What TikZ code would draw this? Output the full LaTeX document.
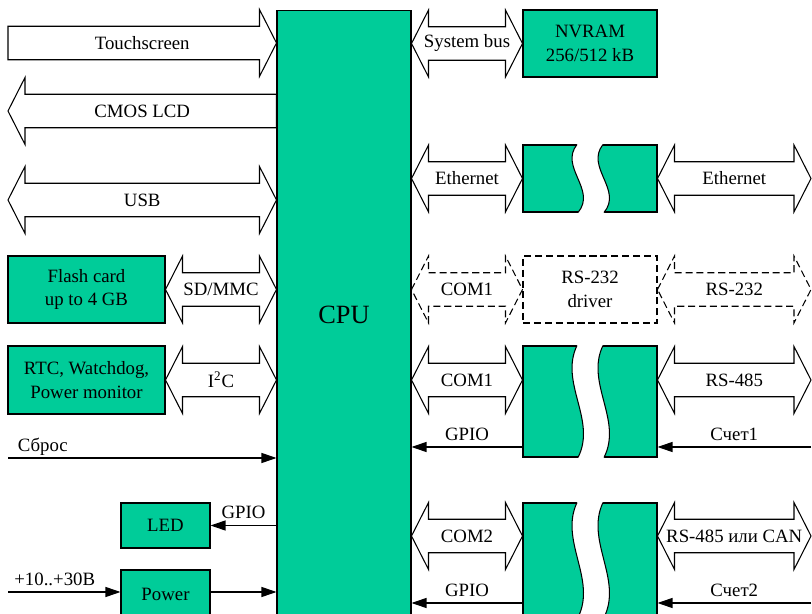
\documentclass[tikz,border=0pt]{standalone}
\usepackage{fontspec}
\setmainfont{Liberation Serif}
\usetikzlibrary{calc,arrows.meta}

\definecolor{chipgreen}{RGB}{0,204,153}

% block arrow sizes
\newcommand{\headlen}{0.34cm}
\newcommand{\headhalf}{0.67cm}
\newcommand{\bodyhalf}{0.335cm}

% double block arrow between two points on one level
\newcommand{\dblarrow}[4][]{%
  \draw[bus,#1] let \p1=(#2), \p2=(#3), \p3=($(#2)!\headlen!(#3)$), \p4=($(#3)!\headlen!(#2)$) in
    (\x1,\y1) -- (\x3,\y1+\headhalf) -- (\x3,\y1+\bodyhalf) -- (\x4,\y1+\bodyhalf)
    -- (\x4,\y1+\headhalf) -- (\x2,\y1) -- (\x4,\y1-\headhalf) -- (\x4,\y1-\bodyhalf)
    -- (\x3,\y1-\bodyhalf) -- (\x3,\y1-\headhalf) -- cycle;
  \path (#2) -- (#3) node[midway] {#4};}

% single block arrow, tail first
\newcommand{\sglarrow}[4][]{%
  \draw[bus,#1] let \p1=(#2), \p2=(#3), \p3=($(#3)!\headlen!(#2)$) in
    (\x1,\y1+\bodyhalf) -- (\x3,\y1+\bodyhalf) -- (\x3,\y1+\headhalf) -- (\x2,\y1)
    -- (\x3,\y1-\headhalf) -- (\x3,\y1-\bodyhalf) -- (\x1,\y1-\bodyhalf) -- cycle;
  \path (#2) -- (#3) node[midway] {#4};}

% wavy break through a transceiver box
\newcommand{\breakgap}[1]{%
  \fill[white] let \p1=(#1.north), \p2=(#1.south), \p3=(#1.center) in
    (\x3-0.26cm,\y1+2pt) -- (\x3-0.26cm,\y1)
    .. controls ({\x3-0.62cm},{(2*\y1+\y2)/3}) and ({\x3+0.14cm},{(\y1+2*\y2)/3}) .. (\x3-0.24cm,\y2)
    -- (\x3-0.24cm,\y2-2pt) -- (\x3+0.28cm,\y2-2pt) -- (\x3+0.28cm,\y2)
    .. controls ({\x3+0.66cm},{(\y1+2*\y2)/3}) and ({\x3-0.10cm},{(2*\y1+\y2)/3}) .. (\x3+0.26cm,\y1)
    -- (\x3+0.26cm,\y1+2pt) -- cycle;
  \draw[bus] let \p1=(#1.north), \p2=(#1.south), \p3=(#1.center) in
    (\x3-0.26cm,\y1)
    .. controls ({\x3-0.62cm},{(2*\y1+\y2)/3}) and ({\x3+0.14cm},{(\y1+2*\y2)/3}) .. (\x3-0.24cm,\y2)
    (\x3+0.26cm,\y1)
    .. controls ({\x3-0.10cm},{(2*\y1+\y2)/3}) and ({\x3+0.66cm},{(\y1+2*\y2)/3}) .. (\x3+0.28cm,\y2);}

\begin{document}
\begin{tikzpicture}[x=0.02cm, y=-0.02cm,
  every node/.style={font=\fontsize{10.7}{13.6}\selectfont},
  chip/.style={draw, fill=chipgreen, line width=0.6pt, align=center, inner sep=0pt},
  bus/.style={draw, line width=0.6pt},
  ghost/.style={dash pattern=on 4pt off 2.2pt},
  sig/.style={line width=0.6pt, -{Triangle[length=3mm,width=2mm]}}]
	\useasboundingbox (0,0) rectangle (812,614);
	\clip (0,0) rectangle (812,614);

	% blocks
	\node[chip, minimum width=2.68cm, minimum height=12.2cm, font=\fontsize{15}{18}\selectfont] (cpu) at (344,315) {CPU};
	\node[chip, minimum width=2.68cm, minimum height=1.34cm] (nvram) at (590,43.5) {NVRAM\\256/512 kB};
	\node[chip, minimum width=2.68cm, minimum height=1.34cm] (eth) at (590,178.5) {};
	\node[chip, fill=none, ghost, minimum width=2.68cm, minimum height=1.34cm] (drv) at (590,289.5) {RS-232\\driver};
	\node[chip, minimum width=2.68cm, minimum height=2.22cm] (com1) at (590,401.5) {};
	\node[chip, minimum width=2.68cm, minimum height=2.28cm] (com2) at (590,560) {};
	\node[chip, minimum width=3.14cm, minimum height=1.34cm] (flash) at (86.5,289.5) {Flash card\\up to 4 GB};
	\node[chip, minimum width=3.14cm, minimum height=1.36cm] (rtc) at (86.5,380) {RTC, Watchdog,\\Power monitor};
	\node[chip, minimum width=1.78cm, minimum height=0.9cm] (led) at (165.5,525.5) {LED};
	\node[chip, minimum width=1.78cm, minimum height=0.96cm] (pwr) at (165.5,594) {Power};
	\breakgap{eth}
	\breakgap{com1}
	\breakgap{com2}

	% free ends
	\coordinate (ts) at (8,43);
	\coordinate (lcd) at (8,111);
	\coordinate (usb) at (8,200);
	\coordinate (rst) at (8,458);
	\coordinate (pin) at (8,592);
	\coordinate (ethR) at (811,178.5);
	\coordinate (rs232) at (811,289.5);
	\coordinate (rs485) at (811,380);
	\coordinate (can) at (811,536);
	\coordinate (cnt1) at (811,447);
	\coordinate (cnt2) at (811,603);

	% left side
	\sglarrow{ts}{cpu.west |- ts}{Touchscreen}
	\sglarrow{cpu.west |- lcd}{lcd}{CMOS LCD}
	\dblarrow{usb}{cpu.west |- usb}{USB}
	\dblarrow{flash.east}{cpu.west |- flash.east}{SD/MMC}
	\dblarrow{rtc.east}{cpu.west |- rtc.east}{I\textsuperscript{2}C}
	\draw[sig] (rst) -- (rst -| cpu.west) node[pos=0, above right, xshift=2pt, yshift=-2pt] {Сброс};
	\draw[sig] (cpu.west |- led) -- (led.east) node[midway, above] {GPIO};
	\draw[sig] (pin) -- (pin -| pwr.west) node[pos=0, above right] {+10..+30В};
	\draw[sig] (pwr.east |- pin) -- (cpu.west |- pin);

	% right side
	\dblarrow{cpu.east |- nvram.west}{nvram.west}{System bus}
	\dblarrow{cpu.east |- eth.west}{eth.west}{Ethernet}
	\dblarrow{eth.east}{ethR}{Ethernet}
	\dblarrow[ghost]{cpu.east |- drv.west}{drv.west}{COM1}
	\dblarrow[ghost]{drv.east}{rs232}{RS-232}
	\dblarrow{cpu.east |- rs485}{com1.west |- rs485}{COM1}
	\dblarrow{com1.east |- rs485}{rs485}{RS-485}
	\dblarrow{cpu.east |- can}{com2.west |- can}{COM2}
	\dblarrow{com2.east |- can}{can}{RS-485 или CAN}
	\draw[sig] (com1.west |- cnt1) -- (cpu.east |- cnt1) node[midway, above] {GPIO};
	\draw[sig] (cnt1) -- (com1.east |- cnt1) node[midway, above] {Счет1};
	\draw[sig] (com2.west |- cnt2) -- (cpu.east |- cnt2) node[midway, above] {GPIO};
	\draw[sig] (cnt2) -- (com2.east |- cnt2) node[midway, above] {Счет2};
\end{tikzpicture}
\end{document}
